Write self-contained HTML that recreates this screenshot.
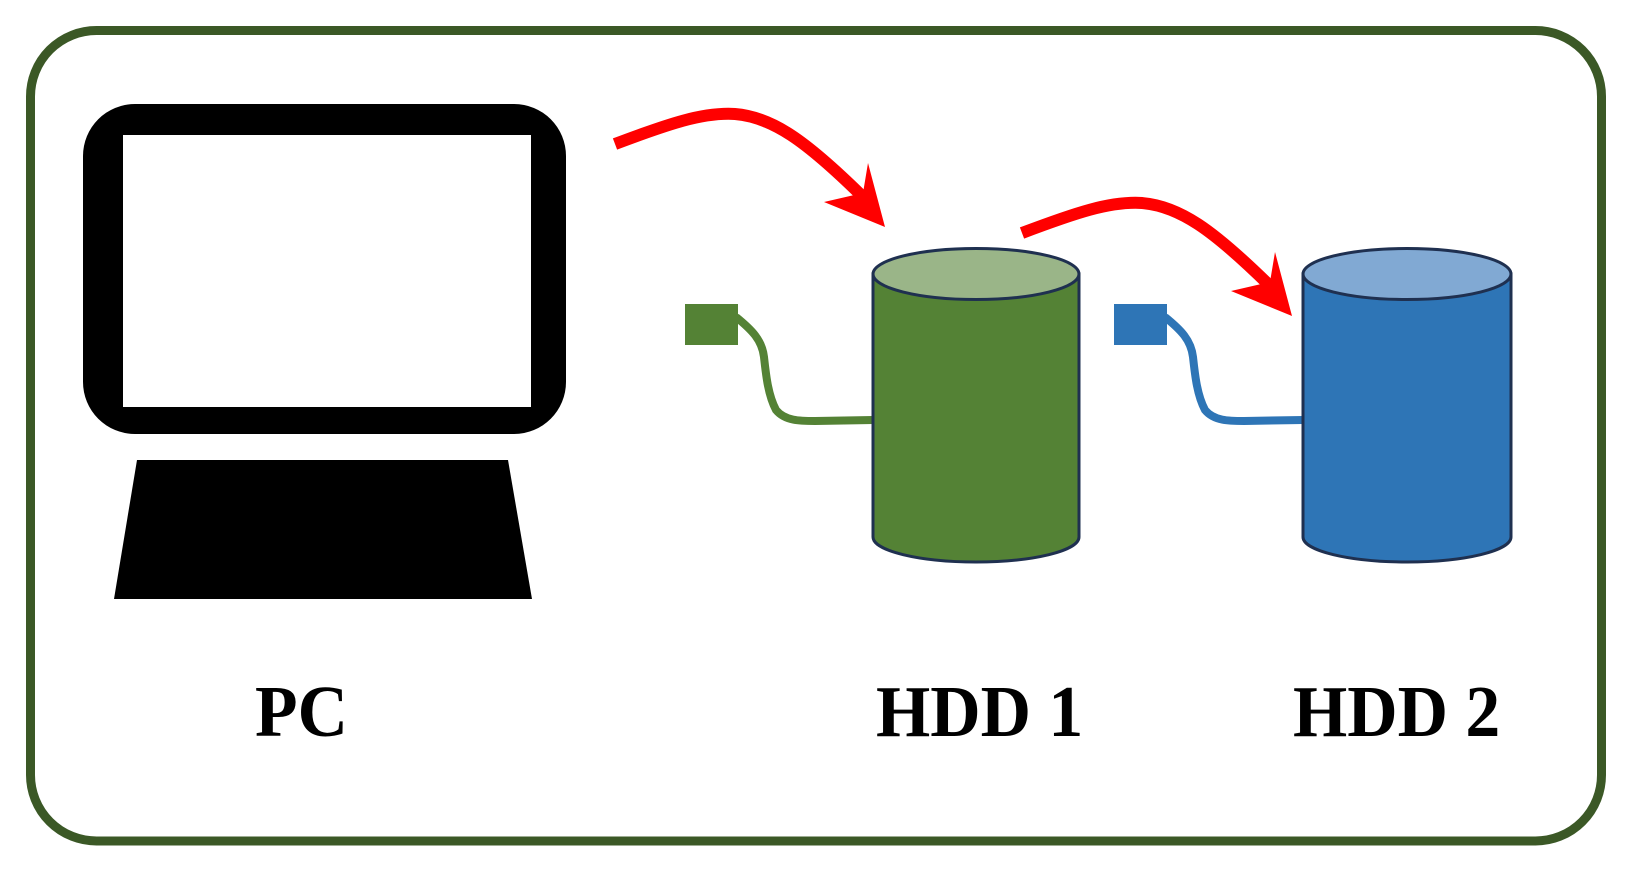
<!DOCTYPE html>
<html>
<head>
<meta charset="utf-8">
<style>
  html, body { margin: 0; padding: 0; background: #ffffff; }
  body { width: 1629px; height: 875px; overflow: hidden; position: relative; }
  svg { display: block; position: absolute; left: 0; top: 0; }
  .lbl {
    position: absolute;
    font-family: "Liberation Serif", "Times New Roman", serif;
    font-weight: 700;
    font-size: 73px;
    line-height: 73px;
    color: #000;
    white-space: nowrap;
    transform: scaleX(0.955);
    transform-origin: 0 0;
    letter-spacing: 0;
  }
</style>
</head>
<body>
<svg width="1629" height="875" viewBox="0 0 1629 875" xmlns="http://www.w3.org/2000/svg">
  <!-- outer frame -->
  <rect x="30.5" y="30.5" width="1571" height="810.5" rx="66" ry="66" fill="#ffffff" stroke="#3b5826" stroke-width="9"/>

  <!-- PC monitor -->
  <rect x="83" y="104" width="483" height="330" rx="52" ry="52" fill="#000"/>
  <rect x="123" y="135" width="408" height="272" fill="#fff"/>
  <!-- stand -->
  <polygon points="137,460 508,460 532,599 114,599" fill="#000"/>

  <!-- Red arrow 1 -->
  <path d="M615,144 C668,124 703,112 735,114 C772,117 805,140 862,196" fill="none" stroke="#ff0000" stroke-width="12"/>
  <polygon points="868,163 885,227 824,202 863,193" fill="#ff0000"/>
  <!-- Red arrow 2 -->
  <g transform="translate(407,89)">
    <path d="M615,144 C668,124 703,112 735,114 C772,117 805,140 862,196" fill="none" stroke="#ff0000" stroke-width="12"/>
    <polygon points="868,163 885,227 824,202 863,193" fill="#ff0000"/>
  </g>

  <!-- Green connector -->
  <path d="M736,317 C752,330 762,340 764,357 C766,375 768,395 776,410 C785,421 800,421 815,421 L873,420" fill="none" stroke="#548235" stroke-width="8"/>
  <rect x="685" y="304" width="53" height="41" fill="#548235"/>

  <!-- Green cylinder HDD1 -->
  <path d="M873,274 L873,537 A103,25 0 0 0 1079,537 L1079,274 Z" fill="#548235" stroke="#1f3050" stroke-width="3"/>
  <ellipse cx="976" cy="274" rx="103" ry="25.5" fill="#9ab588" stroke="#1f3050" stroke-width="3"/>

  <!-- Blue connector -->
  <path d="M1165,317 C1181,330 1191,340 1193,357 C1195,375 1197,395 1205,410 C1214,421 1229,421 1244,421 L1303,420" fill="none" stroke="#2e75b6" stroke-width="8"/>
  <rect x="1114" y="304" width="53" height="41" fill="#2e75b6"/>

  <!-- Blue cylinder HDD2 -->
  <path d="M1303,274 L1303,537 A104,25 0 0 0 1511,537 L1511,274 Z" fill="#2e75b6" stroke="#1f3050" stroke-width="3"/>
  <ellipse cx="1407" cy="274" rx="104" ry="25.5" fill="#81a9d3" stroke="#1f3050" stroke-width="3"/>
</svg>

<div class="lbl" style="left:255px; top:675px;">PC</div>
<div class="lbl" style="left:876px; top:675px;">HDD 1</div>
<div class="lbl" style="left:1293px; top:675px;">HDD 2</div>
</body>
</html>
